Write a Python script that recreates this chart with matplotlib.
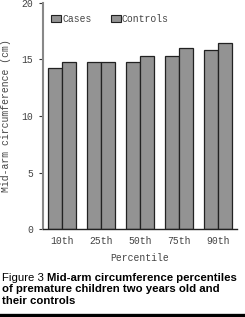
import matplotlib
matplotlib.use("Agg")
import matplotlib.pyplot as plt
import numpy as np
from matplotlib.patches import Patch

categories = ["10th", "25th", "50th", "75th", "90th"]
cases = [14.2, 14.8, 14.8, 15.3, 15.8]
controls = [14.8, 14.8, 15.3, 16.0, 16.4]
yticks = [0, 5, 10, 15, 20]

fig = plt.figure(figsize=(2.45, 3.17), dpi=100)
ax = fig.add_axes([0.174, 0.2767, 0.793, 0.715])

mono = "Liberation Mono"
x = np.arange(len(categories))
w = 0.36
fc = "#939393"
ec = "#222222"
ax.bar(x - w/2, cases, w, color=fc, edgecolor=ec, linewidth=0.9)
ax.bar(x + w/2, controls, w, color=fc, edgecolor=ec, linewidth=0.9)

ax.set_xlim(-0.5, 4.49)
ax.set_ylim(0, 20)
ax.set_yticks(yticks)
ax.set_yticklabels([str(t) for t in yticks], fontfamily=mono, fontsize=7, color="#444444")
ax.set_xticks(x)
ax.set_xticklabels(categories, fontfamily=mono, fontsize=7, color="#444444")
ax.tick_params(axis="x", length=0, pad=5)
ax.tick_params(axis="y", length=3, width=0.8, color="#333333", pad=4)
for s in ["top", "right"]:
    ax.spines[s].set_visible(False)
ax.spines["left"].set_color("#888888")
ax.spines["left"].set_linewidth(1.5)
ax.spines["bottom"].set_color("#222222")
ax.spines["bottom"].set_linewidth(1.0)

ax.set_ylabel("Mid-arm circumference (cm)", fontfamily=mono, fontsize=7, color="#444444", labelpad=7)
ax.set_xlabel("Percentile", fontfamily=mono, fontsize=7, color="#444444", labelpad=5)

handles = [Patch(facecolor=fc, edgecolor=ec, linewidth=0.8, label="Cases"),
           Patch(facecolor=fc, edgecolor=ec, linewidth=0.8, label="Controls")]
ax.legend(handles=handles, loc="upper left", ncol=2, frameon=False,
          prop={"family": mono, "size": 7}, handlelength=1.0, handleheight=0.8,
          handletextpad=0.1, columnspacing=2.0, borderaxespad=0.3,
          bbox_to_anchor=(0.01, 0.98), labelcolor="#444444")

cap_font = "Liberation Sans"
fs = 8.2
x0 = 0.008
t = fig.text(x0, 1 - 281/317, "Figure 3 ", fontfamily=cap_font, fontsize=fs, va="baseline", ha="left")
fig.canvas.draw()
bb = t.get_window_extent()
x2 = bb.x1 / fig.bbox.width
fig.text(x2, 1 - 281/317, "Mid-arm circumference percentiles", fontfamily=cap_font,
         fontsize=fs, fontweight="bold", va="baseline", ha="left")
fig.text(x0, 1 - 292.5/317, "of premature children two years old and", fontfamily=cap_font,
         fontsize=fs, fontweight="bold", va="baseline", ha="left")
fig.text(x0, 1 - 304/317, "their controls", fontfamily=cap_font,
         fontsize=fs, fontweight="bold", va="baseline", ha="left")
fig.add_artist(plt.Line2D([0.0, 1.0], [1 - 314.5/317, 1 - 314.5/317], color="black", linewidth=2.4,
                          transform=fig.transFigure))

fig.savefig("out.png", dpi=100)
